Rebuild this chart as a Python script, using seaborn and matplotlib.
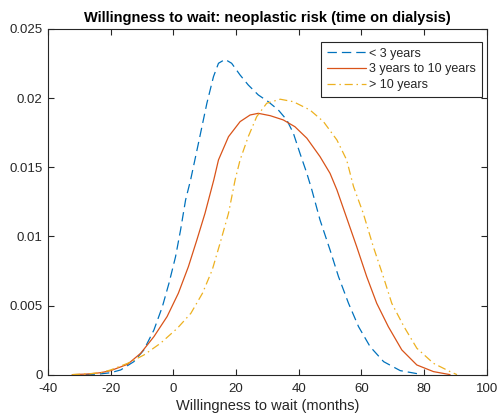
import numpy as np
import pandas as pd
import matplotlib
matplotlib.use("Agg")
import matplotlib.pyplot as plt
import seaborn as sns
from matplotlib.ticker import FuncFormatter

# ---- data (KDE curves) ----
x_lt3 = [-28, -23.4, -20, -16.8, -12.6, -9.4, -6.2, -3.5, -1.4, 0.7, 2.3, 3.9, 5.5, 8.0,
         10.7, 12.8, 14.4, 16.5, 18.6, 21.3, 23.9, 27.1, 30.3, 33.5, 36.2, 38.3, 40.4,
         42.6, 44.2, 46.8, 50.0, 52.7, 55.9, 59.1, 62.8, 67.1, 72.4, 78.8]
y_lt3 = [0, 0.00005, 0.00014, 0.00034, 0.00094, 0.00179, 0.00323, 0.00492, 0.00661, 0.00853,
         0.01046, 0.01263, 0.01408, 0.01673, 0.01963, 0.02155, 0.02252, 0.0228, 0.02252,
         0.02167, 0.02095, 0.02023, 0.01974, 0.01914, 0.01842, 0.01746, 0.01601, 0.01456,
         0.01336, 0.01119, 0.00902, 0.00709, 0.00516, 0.00347, 0.00202, 0.00094, 0.00029,
         0.00003]

x_3to10 = [-32.3, -27, -23.2, -20, -14.6, -10.4, -6.2, -2.0, 1.6, 4.8, 7.5, 10.1, 12.9,
           14.4, 17.6, 21.3, 24.5, 27.1, 30.9, 35.1, 38.8, 42.6, 46.8, 50.0, 52.2, 54.8,
           58.5, 61.7, 64.9, 68.6, 72.9, 77.7, 83.0, 88.3]
y_3to10 = [0, 0.00005, 0.00014, 0.00029, 0.00075, 0.00155, 0.00275, 0.0042, 0.00589,
           0.00781, 0.00974, 0.01167, 0.01408, 0.01553, 0.01721, 0.0183, 0.01878, 0.0189,
           0.01873, 0.01842, 0.01793, 0.0171, 0.01577, 0.01456, 0.01336, 0.01167, 0.00926,
           0.00709, 0.00516, 0.00347, 0.00179, 0.0007, 0.00022, 0]

x_gt10 = [-32.3, -27, -23.2, -20, -14.6, -9.4, -4.1, 1.3, 5.6, 9.3, 12.4, 14.9, 17.6, 19.7,
          21.3, 23.9, 26.6, 29.8, 34.1, 38.3, 43.6, 47.9, 52.2, 55.3, 57.5, 60.6, 63.8,
          67.0, 69.7, 73.6, 77.7, 83.0, 88.3, 90.5]
y_gt10 = [0, 0.00006, 0.00014, 0.00034, 0.00082, 0.00142, 0.00227, 0.00336, 0.00444,
          0.00589, 0.00757, 0.0095, 0.01167, 0.01408, 0.01553, 0.01721, 0.01866, 0.01963,
          0.01992, 0.01974, 0.01914, 0.0183, 0.01697, 0.01553, 0.0136, 0.01167, 0.00926,
          0.00709, 0.00516, 0.00347, 0.00191, 0.00082, 0.00022, 0]

labels = ["< 3 years", "3 years to 10 years", "> 10 years"]
colors = ["#0072BD", "#D95319", "#EDB120"]
x_ticks = [-40, -20, 0, 20, 40, 60, 80, 100]
y_ticks = [0, 0.005, 0.01, 0.015, 0.02, 0.025]

df = pd.concat([
    pd.DataFrame({"x": x_lt3, "y": y_lt3, "group": labels[0]}),
    pd.DataFrame({"x": x_3to10, "y": y_3to10, "group": labels[1]}),
    pd.DataFrame({"x": x_gt10, "y": y_gt10, "group": labels[2]}),
], ignore_index=True)

sns.set_theme(style="white")
plt.rcParams['font.family'] = ['Liberation Sans', 'DejaVu Sans']
plt.rcParams['axes.unicode_minus'] = False

fig = plt.figure(figsize=(4.97, 4.20), dpi=100)
ax = fig.add_axes([0.0966, 0.108, 0.9793 - 0.0966, 0.931 - 0.108])

dash_styles = {labels[0]: (7.5, 4), labels[1]: "", labels[2]: (6.5, 3, 1.2, 3)}
sns.lineplot(data=df, x="x", y="y", hue="group", style="group", hue_order=labels,
             style_order=labels, palette=dict(zip(labels, colors)), dashes=dash_styles,
             linewidth=0.9, sort=False, estimator=None, ax=ax)

ax.set_xlim(-40, 100)
ax.set_ylim(0, 0.025)
ax.set_xticks(x_ticks)
ax.set_yticks(y_ticks)
ax.yaxis.set_major_formatter(FuncFormatter(lambda v, p: "%g" % round(v, 4)))
ax.tick_params(direction="in", length=4, width=0.8, colors="#262626", labelsize=9.5,
               top=True, right=True, bottom=True, left=True)
ax.tick_params(axis="x", pad=6)
ax.tick_params(axis="y", pad=4)
for s in ax.spines.values():
    s.set_color("#262626")
    s.set_linewidth(0.8)
    s.set_visible(True)
ax.set_xlabel("Willingness to wait (months)", fontsize=10.5, color="#262626", labelpad=3)
ax.set_ylabel("")
ax.set_title("Willingness to wait: neoplastic risk (time on dialysis)", fontsize=10.5,
             fontweight="bold", color="black", pad=5)

leg = ax.legend(loc="upper right", bbox_to_anchor=(0.989, 0.962), fontsize=9,
                frameon=True, fancybox=False, framealpha=1, edgecolor="#262626",
                handlelength=3.1, handletextpad=0.3, borderpad=0.45, labelspacing=0.3,
                borderaxespad=0)
leg.get_frame().set_linewidth(0.8)
leg.set_title(None)

fig.savefig("out.png", dpi=100)
